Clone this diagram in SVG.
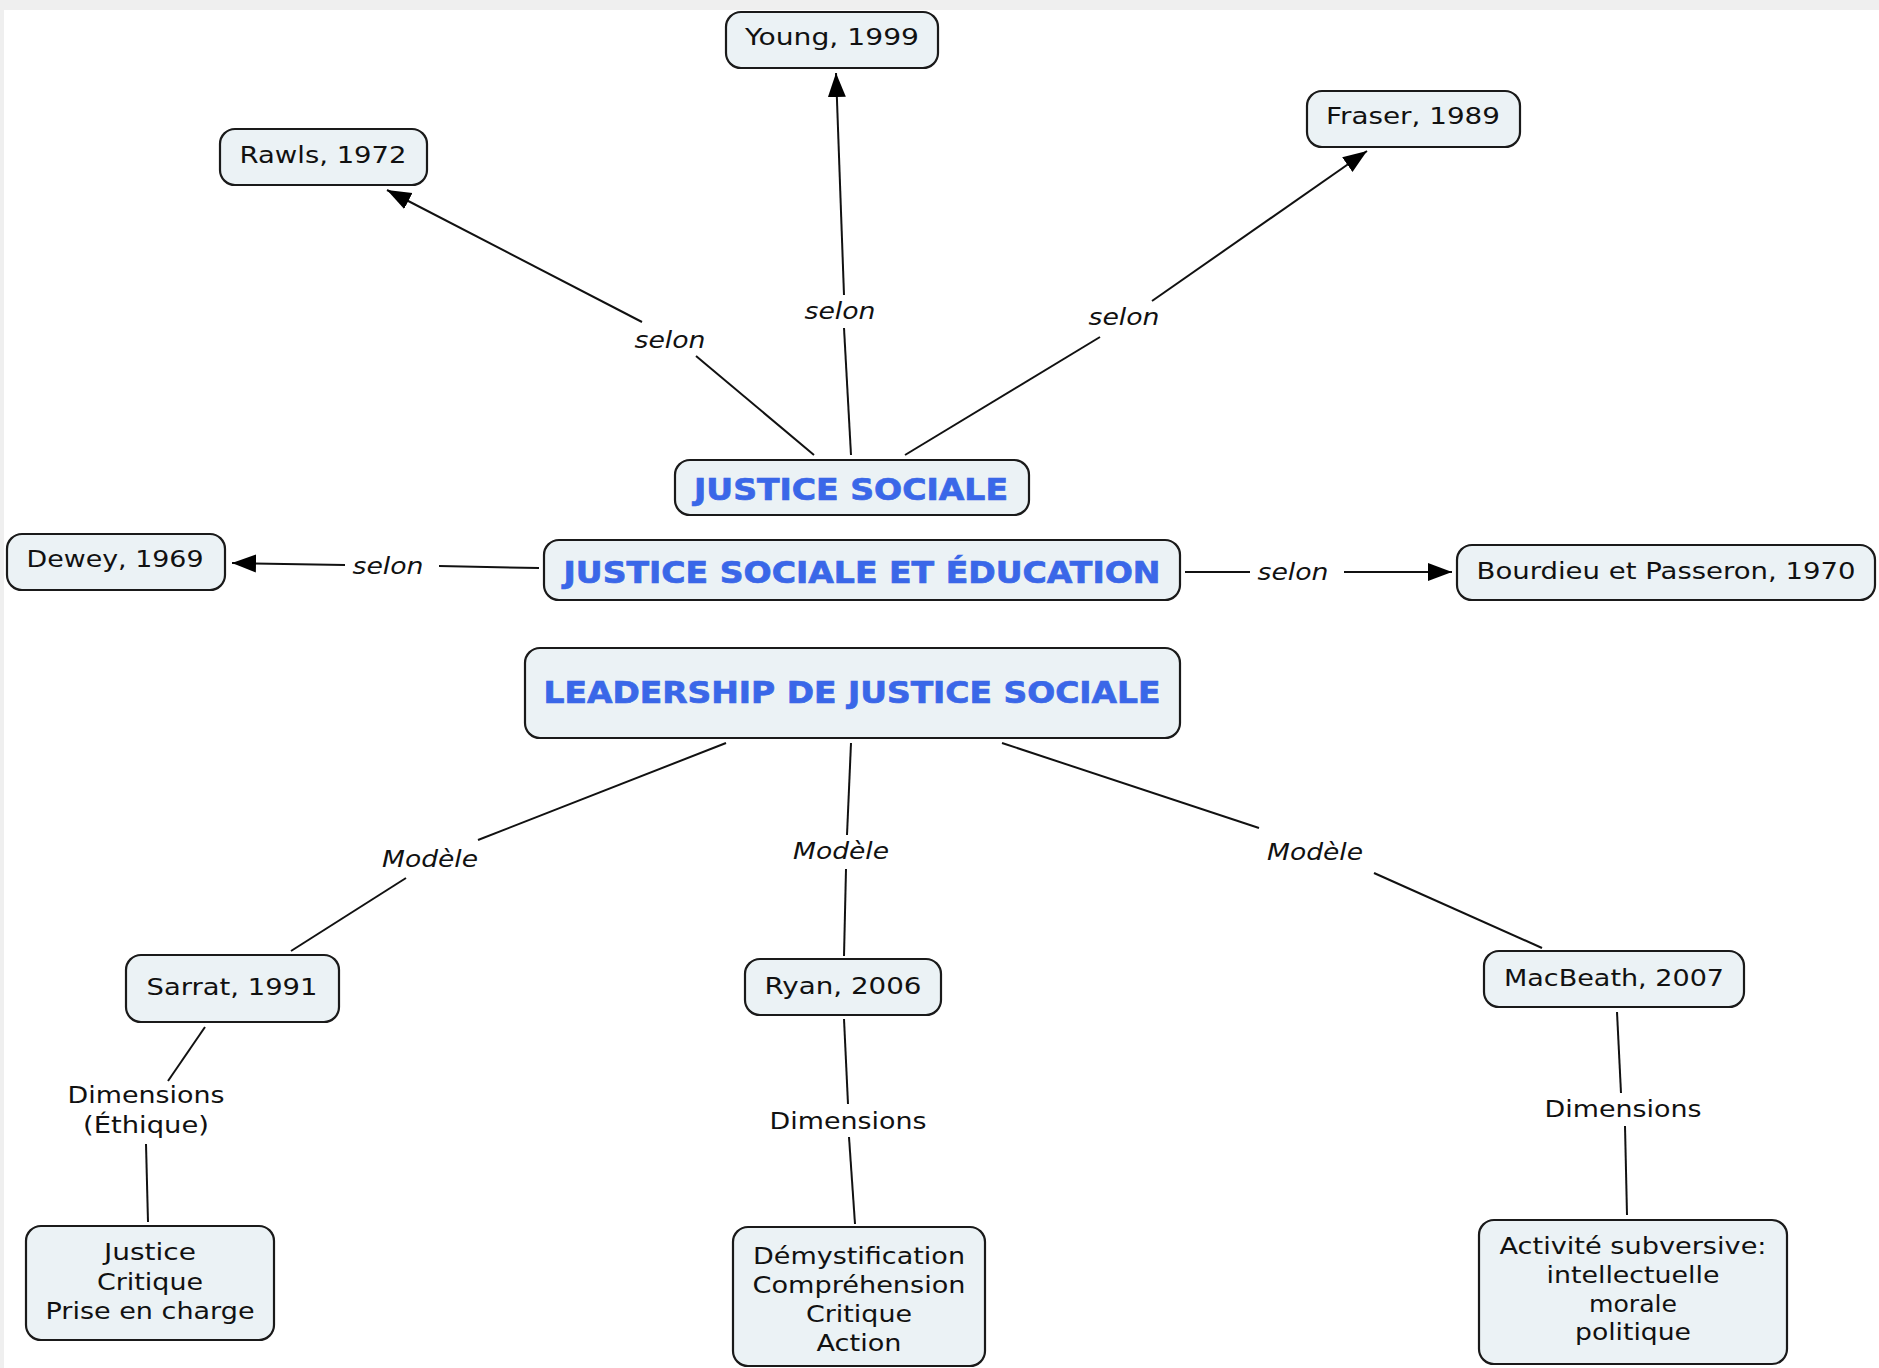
<svg xmlns="http://www.w3.org/2000/svg" width="1879" height="1368" viewBox="0 0 1879 1368">
<defs>
<marker id="arr" markerUnits="userSpaceOnUse" markerWidth="26" markerHeight="20" refX="24" refY="10" orient="auto">
<path d="M0,1 L24,10 L0,19 Z" fill="#000"/>
</marker>
<style>
.box{fill:#ebf2f5;stroke:#1a1a1a;stroke-width:2.2}
.t{font-family:"DejaVu Sans","Liberation Sans",sans-serif;font-size:23.5px;fill:#111;text-anchor:middle}
.h{font-family:"DejaVu Sans","Liberation Sans",sans-serif;font-size:30px;font-weight:bold;fill:#3a67e8;stroke:#3a67e8;stroke-width:0.7;text-anchor:middle}
.lb{font-family:"DejaVu Sans","Liberation Sans",sans-serif;font-size:23.5px;font-style:italic;fill:#111;text-anchor:middle}
.ln{fill:none;stroke:#111;stroke-width:2}
</style>
</defs>
<rect x="0" y="0" width="1879" height="1368" fill="#fff"/>
<rect x="0" y="0" width="1879" height="10" fill="#efefef"/>
<rect x="0" y="0" width="4" height="1368" fill="#efefef"/>

<g id="connectors">
<line class="ln" x1="814" y1="455" x2="696" y2="356"/>
<line class="ln" x1="642" y1="322" x2="387" y2="190" marker-end="url(#arr)"/>
<text class="lb" x="670" y="348" textLength="71" lengthAdjust="spacingAndGlyphs">selon</text>

<line class="ln" x1="851" y1="455" x2="844" y2="328"/>
<line class="ln" x1="844" y1="295" x2="836" y2="73" marker-end="url(#arr)"/>
<text class="lb" x="840" y="319" textLength="71" lengthAdjust="spacingAndGlyphs">selon</text>

<line class="ln" x1="905" y1="455" x2="1100" y2="337"/>
<line class="ln" x1="1152" y1="301" x2="1367" y2="151" marker-end="url(#arr)"/>
<text class="lb" x="1124" y="325" textLength="71" lengthAdjust="spacingAndGlyphs">selon</text>

<line class="ln" x1="539" y1="568" x2="439" y2="566"/>
<line class="ln" x1="345" y1="565" x2="232" y2="563" marker-end="url(#arr)"/>
<text class="lb" x="388" y="574" textLength="71" lengthAdjust="spacingAndGlyphs">selon</text>

<line class="ln" x1="1185" y1="572" x2="1250" y2="572"/>
<line class="ln" x1="1344" y1="572" x2="1452" y2="572" marker-end="url(#arr)"/>
<text class="lb" x="1293" y="580" textLength="71" lengthAdjust="spacingAndGlyphs">selon</text>

<line class="ln" x1="726" y1="743" x2="478" y2="840"/>
<line class="ln" x1="406" y1="878" x2="291" y2="951"/>
<text class="lb" x="430" y="867" textLength="96" lengthAdjust="spacingAndGlyphs">Modèle</text>

<line class="ln" x1="851" y1="743" x2="847" y2="835"/>
<line class="ln" x1="846" y1="869" x2="844" y2="956"/>
<text class="lb" x="841" y="859" textLength="96" lengthAdjust="spacingAndGlyphs">Modèle</text>

<line class="ln" x1="1002" y1="743" x2="1259" y2="828"/>
<line class="ln" x1="1374" y1="873" x2="1542" y2="948"/>
<text class="lb" x="1315" y="860" textLength="96" lengthAdjust="spacingAndGlyphs">Modèle</text>

<line class="ln" x1="205" y1="1027" x2="168" y2="1081"/>
<line class="ln" x1="146" y1="1144" x2="148" y2="1222"/>
<text class="t" x="146" y="1103" textLength="157" lengthAdjust="spacingAndGlyphs">Dimensions</text>
<text class="t" x="146" y="1133" textLength="126" lengthAdjust="spacingAndGlyphs">(Éthique)</text>

<line class="ln" x1="844" y1="1019" x2="848" y2="1104"/>
<line class="ln" x1="849" y1="1137" x2="855" y2="1224"/>
<text class="t" x="848" y="1129" textLength="157" lengthAdjust="spacingAndGlyphs">Dimensions</text>

<line class="ln" x1="1617" y1="1012" x2="1621" y2="1093"/>
<line class="ln" x1="1625" y1="1126" x2="1627" y2="1215"/>
<text class="t" x="1623" y="1117" textLength="157" lengthAdjust="spacingAndGlyphs">Dimensions</text>
</g>

<g id="young"><rect class="box" x="726" y="12" width="212" height="56" rx="15"/><text class="t" x="832" y="45" textLength="174" lengthAdjust="spacingAndGlyphs">Young, 1999</text></g>
<g id="rawls"><rect class="box" x="220" y="129" width="207" height="56" rx="15"/><text class="t" x="323" y="163" textLength="167" lengthAdjust="spacingAndGlyphs">Rawls, 1972</text></g>
<g id="fraser"><rect class="box" x="1307" y="91" width="213" height="56" rx="15"/><text class="t" x="1413" y="124" textLength="174" lengthAdjust="spacingAndGlyphs">Fraser, 1989</text></g>
<g id="justice-sociale"><rect class="box" x="675" y="460" width="354" height="55" rx="15"/><text class="h" x="851" y="500" textLength="314" lengthAdjust="spacingAndGlyphs">JUSTICE SOCIALE</text></g>
<g id="justice-sociale-education"><rect class="box" x="544" y="540" width="636" height="60" rx="15"/><text class="h" x="862" y="583" textLength="597" lengthAdjust="spacingAndGlyphs">JUSTICE SOCIALE ET ÉDUCATION</text></g>
<g id="leadership"><rect class="box" x="525" y="648" width="655" height="90" rx="15"/><text class="h" x="852" y="703" textLength="617" lengthAdjust="spacingAndGlyphs">LEADERSHIP DE JUSTICE SOCIALE</text></g>
<g id="dewey"><rect class="box" x="7" y="534" width="218" height="56" rx="15"/><text class="t" x="115" y="567" textLength="177" lengthAdjust="spacingAndGlyphs">Dewey, 1969</text></g>
<g id="bourdieu"><rect class="box" x="1457" y="545" width="418" height="55" rx="15"/><text class="t" x="1666" y="579" textLength="379" lengthAdjust="spacingAndGlyphs">Bourdieu et Passeron, 1970</text></g>
<g id="sarrat"><rect class="box" x="126" y="955" width="213" height="67" rx="15"/><text class="t" x="232" y="995" textLength="171" lengthAdjust="spacingAndGlyphs">Sarrat, 1991</text></g>
<g id="ryan"><rect class="box" x="745" y="959" width="196" height="56" rx="15"/><text class="t" x="843" y="994" textLength="157" lengthAdjust="spacingAndGlyphs">Ryan, 2006</text></g>
<g id="macbeath"><rect class="box" x="1484" y="951" width="260" height="56" rx="15"/><text class="t" x="1614" y="986" textLength="220" lengthAdjust="spacingAndGlyphs">MacBeath, 2007</text></g>
<g id="sarrat-dims"><rect class="box" x="26" y="1226" width="248" height="114" rx="15"/>
<text class="t" x="150" y="1260" textLength="92" lengthAdjust="spacingAndGlyphs">Justice</text>
<text class="t" x="150" y="1290" textLength="106" lengthAdjust="spacingAndGlyphs">Critique</text>
<text class="t" x="150" y="1319" textLength="209" lengthAdjust="spacingAndGlyphs">Prise en charge</text></g>
<g id="ryan-dims"><rect class="box" x="733" y="1227" width="252" height="139" rx="15"/>
<text class="t" x="859" y="1264" textLength="212" lengthAdjust="spacingAndGlyphs">Démystification</text>
<text class="t" x="859" y="1293" textLength="213" lengthAdjust="spacingAndGlyphs">Compréhension</text>
<text class="t" x="859" y="1322" textLength="106" lengthAdjust="spacingAndGlyphs">Critique</text>
<text class="t" x="859" y="1351" textLength="85" lengthAdjust="spacingAndGlyphs">Action</text></g>
<g id="macbeath-dims"><rect class="box" x="1479" y="1220" width="308" height="144" rx="15"/>
<text class="t" x="1633" y="1254" textLength="267" lengthAdjust="spacingAndGlyphs">Activité subversive:</text>
<text class="t" x="1633" y="1283" textLength="173" lengthAdjust="spacingAndGlyphs">intellectuelle</text>
<text class="t" x="1633" y="1312" textLength="88" lengthAdjust="spacingAndGlyphs">morale</text>
<text class="t" x="1633" y="1340" textLength="116" lengthAdjust="spacingAndGlyphs">politique</text></g>
</svg>
